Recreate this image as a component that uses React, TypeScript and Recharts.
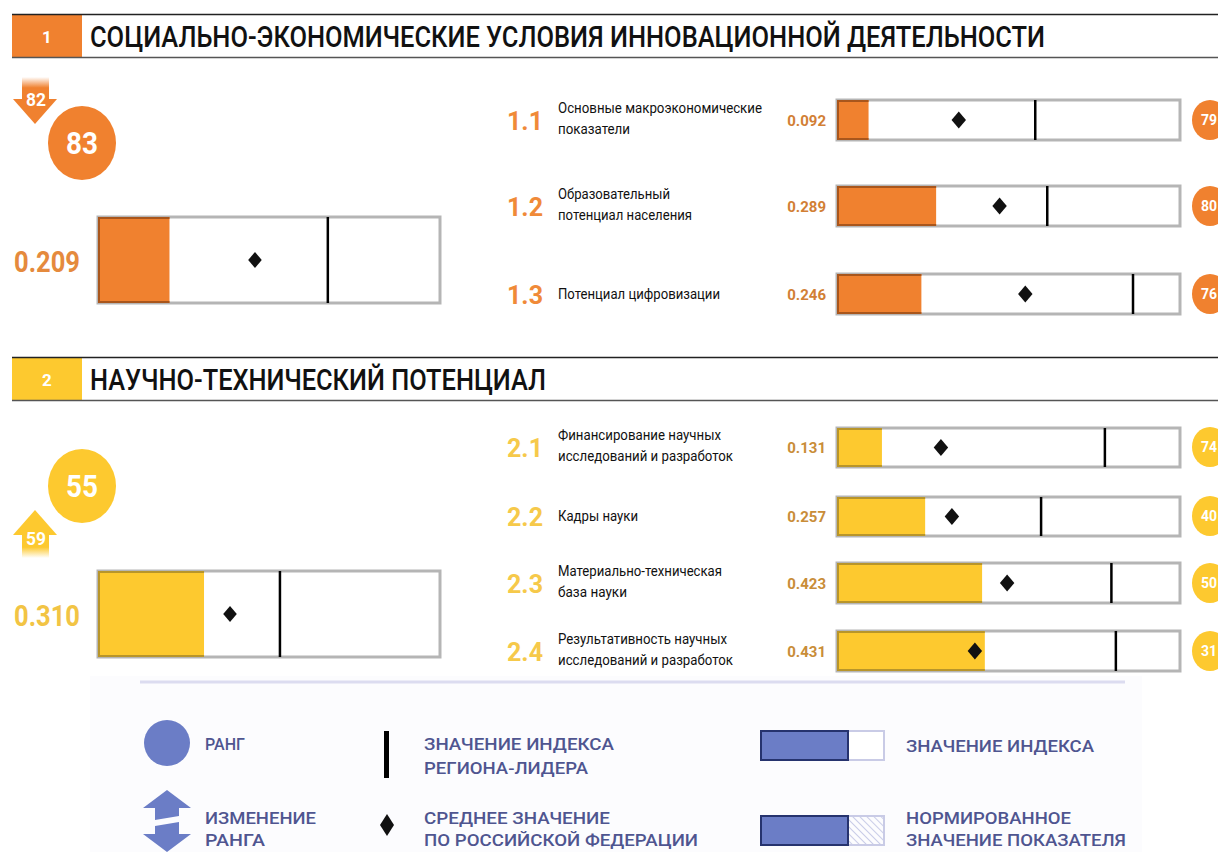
import { ComposedChart, Bar, Line, XAxis, YAxis, ReferenceLine } from 'recharts';

const FONT = 'Roboto, "Noto Sans", sans-serif';

// sections
const SECTION_NUMS = ['1', '2'];
const SECTION_TITLES = [
  'СОЦИАЛЬНО-ЭКОНОМИЧЕСКИЕ УСЛОВИЯ ИННОВАЦИОННОЙ ДЕЯТЕЛЬНОСТИ',
  'НАУЧНО-ТЕХНИЧЕСКИЙ ПОТЕНЦИАЛ',
];
const SECTION_INDEX = [0.209, 0.31];
const SECTION_AVG = [0.459, 0.386];
const SECTION_LEADER = [0.672, 0.532];
const SECTION_RANK = [83, 55];
const SECTION_PREV_RANK = [82, 59];

// sub-indices
const SUB_CODES = ['1.1', '1.2', '1.3', '2.1', '2.2', '2.3', '2.4'];
const SUB_LABELS = [
  ['Основные макроэкономические', 'показатели'],
  ['Образовательный', 'потенциал населения'],
  ['Потенциал цифровизации'],
  ['Финансирование научных', 'исследований и разработок'],
  ['Кадры науки'],
  ['Материально-техническая', 'база науки'],
  ['Результативность научных', 'исследований и разработок'],
];
const SUB_VALUES = [0.092, 0.289, 0.246, 0.131, 0.257, 0.423, 0.431];
const SUB_AVG = [0.355, 0.474, 0.549, 0.303, 0.335, 0.496, 0.402];
const SUB_LEADER = [0.578, 0.613, 0.863, 0.781, 0.595, 0.8, 0.813];
const SUB_RANK = [79, 80, 76, 74, 40, 50, 31];
const SUB_SECTION = [0, 0, 0, 1, 1, 1, 1];

// layout (pixels)
const HEADER_Y = [15, 358];
const BIG_BOX_Y = [217, 571];
const BIG_CIRCLE_Y = [143, 486];
const ROW_CY = [120, 206, 294, 447, 516, 583, 651];
const ROW_H = [40, 40, 40, 39, 39, 40, 40];
const LABEL_W = [
  [204, 72],
  [112, 134],
  [162],
  [163, 175],
  [80],
  [164, 69],
  [169, 175],
];

const THEME = [
  { fill: '#f0812f', edge: '#a9561c', big: '#e58a3d', code: '#f08a38', val: '#d27f35' },
  { fill: '#fdc92f', edge: '#b8952a', big: '#f2c444', code: '#f6c94a', val: '#c98d38' },
];

const LEGEND_BLUE = '#6b7dc6';
const LEGEND_TEXT = '#4f5590';

function T({ x, y, w, size, weight = 400, fill = '#111', anchor = 'start', children }: any) {
  return (
    <text
      x={x}
      y={y}
      fontFamily={FONT}
      fontSize={size}
      fontWeight={weight}
      fill={fill}
      textAnchor={anchor}
      textLength={w}
      lengthAdjust="spacingAndGlyphs"
    >
      {children}
    </text>
  );
}

const diamond = (r: number) => (props: any) => {
  const { cx, cy } = props;
  if (cx == null || cy == null) return <g />;
  return (
    <path
      d={`M${cx},${cy - r} L${cx + r * 0.85},${cy} L${cx},${cy + r} L${cx - r * 0.85},${cy} Z`}
      fill="#111"
    />
  );
};

const edgedBar = (edge: string) => (props: any) => {
  const { x, y, width, height, fill } = props;
  return (
    <g>
      <rect x={x} y={y} width={width} height={height} fill={fill} />
      <path
        d={`M${x + width},${y + 1} H${x + 1} V${y + height - 1} H${x + width}`}
        fill="none"
        stroke={edge}
        strokeWidth={2}
      />
    </g>
  );
};

function Bullet({ x, y, w, h, value, avg, leader, theme, r }: any) {
  const data = [{ name: 'v', value, avg }];
  return (
    <div style={{ position: 'absolute', left: x - 2, top: y - 2 }}>
      <ComposedChart
        width={w + 4}
        height={h + 4}
        layout="vertical"
        data={data}
        margin={{ top: 2, right: 2, bottom: 2, left: 2 }}
        barCategoryGap={0}
      >
        <XAxis type="number" domain={[0, 1]} hide />
        <YAxis type="category" dataKey="name" hide />
        <Bar
          dataKey="value"
          fill={theme.fill}
          shape={edgedBar(theme.edge)}
          background={{ fill: '#fff', stroke: '#b5b5b5', strokeWidth: 3 }}
          isAnimationActive={false}
        />
        <ReferenceLine x={leader} stroke="#000" strokeWidth={2.5} />
        <Line dataKey="avg" stroke="none" dot={diamond(r)} activeDot={false} isAnimationActive={false} />
      </ComposedChart>
    </div>
  );
}

function Header({ i }: { i: number }) {
  const y = HEADER_Y[i];
  const th = THEME[i];
  return (
    <g>
      <rect x={12} y={y} width={70} height={42} fill={th.fill} />
      <line x1={12} x2={1218} y1={y - 0.5} y2={y - 0.5} stroke="#222" strokeWidth={1.5} />
      <line x1={12} x2={1218} y1={y + 42.5} y2={y + 42.5} stroke="#555" strokeWidth={1.5} />
      <T x={47} y={y + 28} size={17} weight={700} fill="#fff" anchor="middle">
        {SECTION_NUMS[i]}
      </T>
      <T x={90} y={y + 32} w={i === 0 ? 955 : 456} size={30} weight={500}>
        {SECTION_TITLES[i]}
      </T>
    </g>
  );
}

function RankBlock({ i }: { i: number }) {
  const th = THEME[i];
  const cy = BIG_CIRCLE_Y[i];
  const down = SECTION_RANK[i] > SECTION_PREV_RANK[i];
  const gid = `fade${i}`;
  return (
    <g>
      <defs>
        <linearGradient id={gid} x1="0" x2="0" y1={down ? '0' : '1'} y2={down ? '1' : '0'}>
          <stop offset="0" stopColor={th.fill} stopOpacity={0} />
          <stop offset="0.45" stopColor={th.fill} stopOpacity={1} />
        </linearGradient>
      </defs>
      {down ? (
        <g>
          <rect x={22} y={77} width={27} height={24} fill={`url(#${gid})`} />
          <polygon points="13,99 57,99 35,124" fill={th.fill} />
          <T x={36} y={106} w={20} size={18} weight={700} fill="#fff" anchor="middle">
            {SECTION_PREV_RANK[i]}
          </T>
        </g>
      ) : (
        <g>
          <polygon points="35,510 57,535 13,535" fill={th.fill} />
          <rect x={22} y={534} width={27} height={24} fill={`url(#${gid})`} />
          <T x={36} y={545} w={20} size={18} weight={700} fill="#fff" anchor="middle">
            {SECTION_PREV_RANK[i]}
          </T>
        </g>
      )}
      <ellipse cx={82} cy={cy} rx={34} ry={37} fill={th.fill} />
      <T x={82} y={cy + 11} w={32} size={31} weight={700} fill="#fff" anchor="middle">
        {SECTION_RANK[i]}
      </T>
      <T x={14} y={BIG_BOX_Y[i] + 55} w={66} size={30} weight={700} fill={th.big}>
        {SECTION_INDEX[i].toFixed(3)}
      </T>
    </g>
  );
}

function SubRow({ k }: { k: number }) {
  const th = THEME[SUB_SECTION[k]];
  const cy = ROW_CY[k];
  const lines = SUB_LABELS[k];
  return (
    <g>
      <T x={507} y={cy + 9.5} w={36} size={26} weight={700} fill={th.code}>
        {SUB_CODES[k]}
      </T>
      {lines.length === 1 ? (
        <T x={558} y={cy + 5} w={LABEL_W[k][0]} size={15}>
          {lines[0]}
        </T>
      ) : (
        lines.map((s, j) => (
          <T key={j} x={558} y={cy - 7 + j * 21} w={LABEL_W[k][j]} size={15}>
            {s}
          </T>
        ))
      )}
      <T x={826} y={cy + 5.5} size={15} weight={700} fill={th.val} anchor="end">
        {SUB_VALUES[k].toFixed(3)}
      </T>
      <ellipse cx={1210} cy={cy} rx={18} ry={20} fill={th.fill} />
      <T x={1209} y={cy + 5} size={14} weight={700} fill="#fff" anchor="middle">
        {SUB_RANK[k]}
      </T>
    </g>
  );
}

function Legend() {
  return (
    <g>
      <rect x={90} y={676} width={1052} height={176} fill="#fcfcfe" />
      <line x1={140} x2={1125} y1={682} y2={682} stroke="#dcdcf0" strokeWidth={3} />

      <ellipse cx={167} cy={743} rx={23} ry={23} fill={LEGEND_BLUE} />
      <T x={205} y={750} w={40} size={17} weight={500} fill={LEGEND_TEXT}>РАНГ</T>

      <polygon points="167,790 191,808 179,808 179,816 155,820 155,808 143,808" fill={LEGEND_BLUE} />
      <polygon points="155,826 179,822 179,834 191,834 167,852 143,834 155,834" fill={LEGEND_BLUE} />
      <T x={205} y={824} w={111} size={17} weight={500} fill={LEGEND_TEXT}>ИЗМЕНЕНИЕ</T>
      <T x={205} y={846} w={60} size={17} weight={500} fill={LEGEND_TEXT}>РАНГА</T>

      <rect x={384} y={731} width={5} height={47} fill="#000" />
      <T x={424} y={750} w={190} size={17} weight={500} fill={LEGEND_TEXT}>ЗНАЧЕНИЕ ИНДЕКСА</T>
      <T x={424} y={774} w={164} size={17} weight={500} fill={LEGEND_TEXT}>РЕГИОНА-ЛИДЕРА</T>

      <path d="M387,814 L394,825 L387,836 L380,825 Z" fill="#111" />
      <T x={424} y={824} w={186} size={17} weight={500} fill={LEGEND_TEXT}>СРЕДНЕЕ ЗНАЧЕНИЕ</T>
      <T x={424} y={846} w={274} size={17} weight={500} fill={LEGEND_TEXT}>ПО РОССИЙСКОЙ ФЕДЕРАЦИИ</T>

      <rect x={761} y={731} width={123} height={29} fill="#fff" stroke="#c9cbe6" strokeWidth={2} />
      <rect x={761} y={731} width={87} height={29} fill={LEGEND_BLUE} stroke="#26336e" strokeWidth={2} />
      <T x={906} y={752} w={188} size={17} weight={500} fill={LEGEND_TEXT}>ЗНАЧЕНИЕ ИНДЕКСА</T>

      <defs>
        <pattern id="hatch" width="5" height="5" patternUnits="userSpaceOnUse" patternTransform="rotate(-45)">
          <line x1="0" y1="0" x2="0" y2="5" stroke="#b8bce0" strokeWidth="1.5" />
        </pattern>
      </defs>
      <rect x={761} y={816} width={123} height={29} fill="url(#hatch)" stroke="#c9cbe6" strokeWidth={2} />
      <rect x={761} y={816} width={87} height={29} fill={LEGEND_BLUE} stroke="#26336e" strokeWidth={2} />
      <T x={906} y={824} w={165} size={17} weight={500} fill={LEGEND_TEXT}>НОРМИРОВАННОЕ</T>
      <T x={906} y={846} w={220} size={17} weight={500} fill={LEGEND_TEXT}>ЗНАЧЕНИЕ ПОКАЗАТЕЛЯ</T>
    </g>
  );
}

export default function App() {
  return (
    <div
      style={{
        position: 'absolute',
        left: 0,
        top: 0,
        width: 1218,
        height: 852,
        overflow: 'hidden',
        background: '#fff',
        fontFamily: FONT,
      }}
    >
      <svg width={1218} height={852} style={{ position: 'absolute', left: 0, top: 0 }}>
        {SECTION_NUMS.map((_, i) => (
          <g key={i}>
            <Header i={i} />
            <RankBlock i={i} />
          </g>
        ))}
        {SUB_CODES.map((_, k) => (
          <SubRow key={k} k={k} />
        ))}
        <Legend />
      </svg>

      {SECTION_NUMS.map((_, i) => (
        <Bullet
          key={`big${i}`}
          x={98}
          y={BIG_BOX_Y[i]}
          w={342}
          h={86}
          value={SECTION_INDEX[i]}
          avg={SECTION_AVG[i]}
          leader={SECTION_LEADER[i]}
          theme={THEME[i]}
          r={8}
        />
      ))}
      {SUB_CODES.map((_, k) => (
        <Bullet
          key={`sub${k}`}
          x={837}
          y={ROW_CY[k] - ROW_H[k] / 2}
          w={343}
          h={ROW_H[k]}
          value={SUB_VALUES[k]}
          avg={SUB_AVG[k]}
          leader={SUB_LEADER[k]}
          theme={THEME[SUB_SECTION[k]]}
          r={8.5}
        />
      ))}
    </div>
  );
}
